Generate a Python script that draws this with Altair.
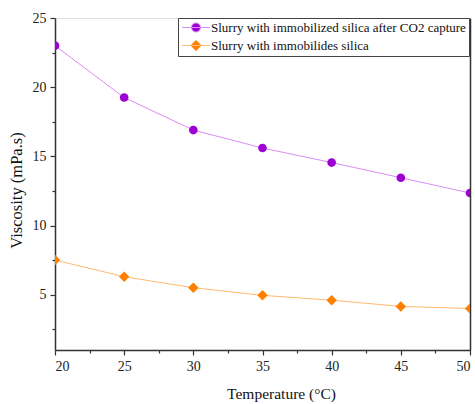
import altair as alt
import pandas as pd

temperature = [20, 25, 30, 35, 40, 45, 50]
viscosity_after_co2 = [23.0, 19.25, 16.9, 15.6, 14.55, 13.45, 12.35]
viscosity_silica = [7.5, 6.3, 5.5, 4.95, 4.6, 4.15, 4.0]
series_names = ["Slurry with immobilized silica after CO2 capture", "Slurry with immobilides silica"]
marker_colors = ["#9d00d2", "#ff8000"]
line_colors = ["#dc8cf7", "#ffb870"]
x_major = [20, 25, 30, 35, 40, 45, 50]
x_minor = [22.5, 27.5, 32.5, 37.5, 42.5, 47.5]
y_major = [5, 10, 15, 20, 25]
y_minor = [2.5, 7.5, 12.5, 17.5, 22.5]

rows = []
for name, vals in zip(series_names, [viscosity_after_co2, viscosity_silica]):
    for t, v in zip(temperature, vals):
        rows.append({"temperature": t, "viscosity": v, "series": name})
df = pd.DataFrame(rows)

FONT = "Liberation Serif"
xs = alt.Scale(domain=[20, 50], nice=False, zero=False)
ys = alt.Scale(domain=[1, 25], nice=False, zero=False)
fill_scale = alt.Scale(domain=series_names, range=marker_colors)
stroke_scale = alt.Scale(domain=series_names, range=line_colors)
circle_path = "M-1.1,0L4.5,0M0.8,0A0.9,0.9 0 1,0 2.6,0A0.9,0.9 0 1,0 0.8,0Z"
diamond_path = "M-1.1,0L4.5,0M1.7,-1.1L2.8,0L1.7,1.1L0.6,0Z"
shape_scale = alt.Scale(domain=series_names, range=[circle_path, diamond_path])

axis_common = dict(domainColor="#333333", domainWidth=1.5, tickColor="#333333",
                   tickWidth=1.2, labelFont=FONT, labelFontSize=14, labelColor="#222222",
                   titleFont=FONT, titleFontWeight="normal",
                   titleColor="#111111", grid=False)

x_main = alt.X("temperature:Q", scale=xs, title="Temperature (°C)",
               axis=alt.Axis(orient="bottom", values=x_major, tickSize=5, labelPadding=4,
                             titlePadding=13, titleX=226, titleFontSize=15.5, **axis_common))
y_main = alt.Y("viscosity:Q", scale=ys, title="Viscosity (mPa.s)",
               axis=alt.Axis(orient="left", values=y_major, tickSize=5, labelPadding=4,
                             titlePadding=8, titleY=172, titleFontSize=16.5, **axis_common))

x_min = alt.X("temperature:Q", scale=xs, title=None,
              axis=alt.Axis(orient="bottom", values=x_minor, tickSize=3, labels=False,
                            domain=False, tickColor="#333333", tickWidth=1.2, grid=False))
y_min = alt.Y("viscosity:Q", scale=ys, title=None,
              axis=alt.Axis(orient="left", values=y_minor, tickSize=3, labels=False,
                            domain=False, tickColor="#333333", tickWidth=1.2, grid=False))
y_right = alt.Y("viscosity:Q", scale=ys, title=None,
                axis=alt.Axis(orient="right", ticks=False, labels=False, domain=True,
                              domainColor="#333333", domainWidth=1.5, grid=False))

base = alt.Chart(df)

leg = alt.Legend(title=None, orient="none", legendX=123, legendY=0,
                 symbolSize=100, symbolStrokeWidth=1, symbolOpacity=1, labelFont=FONT,
                 labelFontSize=13, labelColor="#111111", labelOffset=17,
                 rowPadding=3, padding=3, strokeColor="#444444", fillColor="white",
                 labelLimit=400)

legend_layer = base.mark_point(filled=True, opacity=0).encode(
    x=alt.X("temperature:Q", scale=xs, axis=None),
    y=alt.Y("viscosity:Q", scale=ys, axis=None),
    fill=alt.Fill("series:N", scale=fill_scale, legend=leg),
    stroke=alt.Stroke("series:N", scale=stroke_scale, legend=leg),
    shape=alt.Shape("series:N", scale=shape_scale, legend=leg),
)

lines = base.mark_line(clip=True, strokeWidth=1).encode(
    x=x_main, y=y_main,
    stroke=alt.Stroke("series:N", scale=stroke_scale),
    detail="series:N",
)

circles = base.transform_filter(alt.datum.series == series_names[0]).mark_point(
    filled=True, shape="circle", size=75, opacity=1, clip=True
).encode(
    x=x_min, y=y_min,
    fill=alt.Fill("series:N", scale=fill_scale),
)

diamonds = base.transform_filter(alt.datum.series == series_names[1]).mark_point(
    filled=True, shape="diamond", size=110, opacity=1, clip=True
).encode(
    x=alt.X("temperature:Q", scale=xs, axis=None),
    y=y_right,
    fill=alt.Fill("series:N", scale=fill_scale),
)

chart = alt.layer(legend_layer, lines, circles, diamonds).resolve_axis(
    x="independent", y="independent"
).properties(
    width=415, height=332,
    autosize=alt.AutoSizeParams(type="none"),
    padding={"left": 55, "top": 18, "right": 5, "bottom": 54},
).configure_view(stroke=None).configure(background="white")

chart.save("out.html", embed_options={"renderer": "svg", "actions": False})
